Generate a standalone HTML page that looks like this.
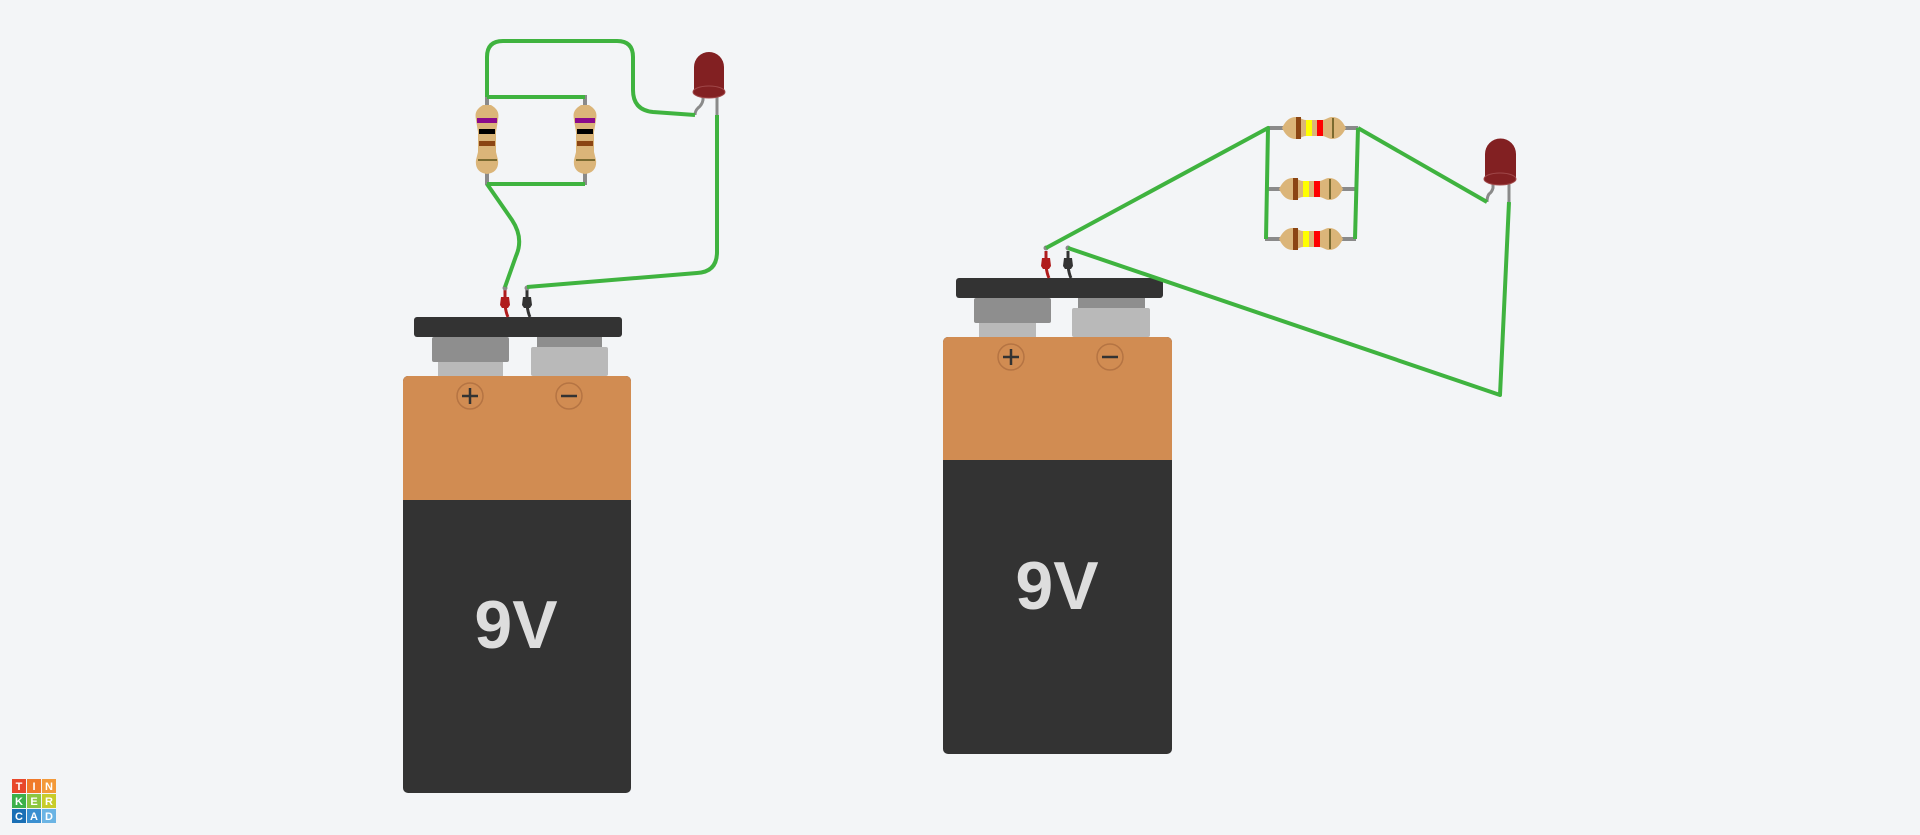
<!DOCTYPE html>
<html><head><meta charset="utf-8"><style>
html,body{margin:0;padding:0;background:#f3f5f7;}
svg{display:block;font-family:"Liberation Sans",sans-serif;}
</style></head><body>
<svg width="1920" height="835" viewBox="0 0 1920 835">
<defs>
<g id="res-v">
  <line x1="0" y1="-45" x2="0" y2="45" stroke="#8a8a8a" stroke-width="4"/>
  <path d="M-4,-35 C-12,-30 -12,-26 -11,-20 L-9,-8 L-9,12 L-11,20 C-12,28 -8,33 0,34 C8,33 12,28 11,20 L9,12 L9,-8 L11,-20 C12,-26 12,-30 4,-35 Z" fill="#dbb579"/>
</g>
<g id="res-h">
  <path d="M-32,0 C-28,-8 -24,-11 -18,-11 C-14,-11 -12,-8 -8,-8 L8,-8 C12,-8 14,-11 18,-11 C24,-11 28,-8 32,0 C28,8 24,11 18,11 C14,11 12,8 8,8 L-8,8 C-12,8 -14,11 -18,11 C-24,11 -28,8 -32,0 Z" fill="#dbb579"/>
  <rect x="-18" y="-11" width="5" height="22" fill="#8b4513"/>
  <rect x="-8" y="-8" width="6" height="16" fill="#ffff00"/>
  <rect x="3" y="-8" width="6" height="16" fill="#ff0000"/>
  <rect x="18" y="-10" width="2" height="20" fill="#7a6a30"/>
</g>
</defs>

<!-- LEFT CIRCUIT -->
<g>
  <rect x="403" y="376" width="228" height="417" rx="5" fill="#333333"/>
  <path d="M403,381 a5,5 0 0 1 5,-5 h218 a5,5 0 0 1 5,5 v119 h-228 z" fill="#d18c52"/>
  <rect x="438" y="360" width="65" height="16" fill="#b9b9b9"/>
  <rect x="432" y="337" width="77" height="25" rx="2" fill="#8e8e8e"/>
  <rect x="537" y="335" width="65" height="14" fill="#8e8e8e"/>
  <rect x="531" y="347" width="77" height="29" rx="2" fill="#b9b9b9"/>
  <rect x="414" y="317" width="208" height="20" rx="3" fill="#333333"/>
  <circle cx="470" cy="396" r="13" fill="none" stroke="#b57443" stroke-width="1.5"/>
  <path d="M462,396 h16 M470,388 v16" stroke="#333" stroke-width="2.5"/>
  <circle cx="569" cy="396" r="13" fill="none" stroke="#b57443" stroke-width="1.5"/>
  <path d="M561,396 h16" stroke="#333" stroke-width="2.5"/>
  <text x="516" y="648" font-size="68" font-weight="bold" fill="#dddddd" text-anchor="middle">9V</text>
</g>
<g>
  <path d="M505,290 v8 M505,305 q1,8 3,12" stroke="#b01c1c" stroke-width="3" fill="none"/>
  <path d="M501,297 h8 l1,8 l-2,3 h-6 l-2,-3 z" fill="#b01c1c"/>
  <path d="M527,290 v8 M527,305 q1,8 3,12" stroke="#333" stroke-width="3" fill="none"/>
  <path d="M523,297 h8 l1,8 l-2,3 h-6 l-2,-3 z" fill="#333"/>
  <circle cx="505" cy="288" r="2.5" fill="#8a8a8a"/><circle cx="527" cy="288" r="2.5" fill="#8a8a8a"/>
</g>
<g>
  <use href="#res-v" x="487" y="140"/>
  <rect x="477" y="118" width="20" height="5" fill="#8b0a8b"/>
  <rect x="479" y="129" width="16" height="5" fill="#000"/>
  <rect x="479" y="141" width="16" height="5" fill="#8b4513"/>
  <rect x="478" y="159" width="19" height="2" fill="#7a6a30"/>
</g>
<g>
  <use href="#res-v" x="585" y="140"/>
  <rect x="575" y="118" width="20" height="5" fill="#8b0a8b"/>
  <rect x="577" y="129" width="16" height="5" fill="#000"/>
  <rect x="577" y="141" width="16" height="5" fill="#8b4513"/>
  <rect x="576" y="159" width="19" height="2" fill="#7a6a30"/>
</g>
<g>
  <path d="M703,96 v4 q-1,5 -5,8 q-3,3 -3,7" stroke="#8a8a8a" stroke-width="3" fill="none"/>
  <path d="M717,95 v20" stroke="#8a8a8a" stroke-width="3"/>
  <path d="M694,67 a15,15 0 0 1 30,0 v25 h-30 z" fill="#822022"/>
  <ellipse cx="709" cy="92" rx="16" ry="6" fill="#822022" stroke="#a0484a" stroke-width="1"/>
</g>
<g fill="none" stroke="#3fb33f" stroke-width="4" stroke-linejoin="round">
  <path d="M487,97 H585"/>
  <path d="M487,184 H585"/>
  <path d="M487,97 V57 q0,-16 16,-16 H617 q16,0 16,16 V90 q0,20 20,22 L695,115"/>
  <path d="M717,115 V252 q0,20 -20,21 L527,287"/>
  <path d="M487,184 L512,220 q12,18 4,36 L505,287"/>
</g>

<!-- RIGHT CIRCUIT -->
<g>
  <rect x="943" y="337" width="229" height="417" rx="5" fill="#333333"/>
  <path d="M943,342 a5,5 0 0 1 5,-5 h219 a5,5 0 0 1 5,5 v118 h-229 z" fill="#d18c52"/>
  <rect x="979" y="320" width="57" height="17" fill="#b9b9b9"/>
  <rect x="974" y="298" width="77" height="25" rx="2" fill="#8e8e8e"/>
  <rect x="1078" y="296" width="67" height="14" fill="#8e8e8e"/>
  <rect x="1072" y="308" width="78" height="29" rx="2" fill="#b9b9b9"/>
  <rect x="956" y="278" width="207" height="20" rx="3" fill="#333333"/>
  <circle cx="1011" cy="357" r="13" fill="none" stroke="#b57443" stroke-width="1.5"/>
  <path d="M1003,357 h16 M1011,349 v16" stroke="#333" stroke-width="2.5"/>
  <circle cx="1110" cy="357" r="13" fill="none" stroke="#b57443" stroke-width="1.5"/>
  <path d="M1102,357 h16" stroke="#333" stroke-width="2.5"/>
  <text x="1057" y="609" font-size="68" font-weight="bold" fill="#dddddd" text-anchor="middle">9V</text>
</g>
<g>
  <path d="M1046,251 v8 M1046,266 q1,8 3,12" stroke="#b01c1c" stroke-width="3" fill="none"/>
  <path d="M1042,258 h8 l1,8 l-2,3 h-6 l-2,-3 z" fill="#b01c1c"/>
  <path d="M1068,251 v8 M1068,266 q1,8 3,12" stroke="#333" stroke-width="3" fill="none"/>
  <path d="M1064,258 h8 l1,8 l-2,3 h-6 l-2,-3 z" fill="#333"/>
  <circle cx="1046" cy="248" r="2.5" fill="#8a8a8a"/><circle cx="1068" cy="248" r="2.5" fill="#8a8a8a"/>
</g>
<g stroke="#8a8a8a" stroke-width="4">
  <line x1="1268" y1="128" x2="1358" y2="128"/>
  <line x1="1265" y1="189" x2="1356" y2="189"/>
  <line x1="1265" y1="239" x2="1356" y2="239"/>
</g>
<g><use href="#res-h" x="1314" y="128"/></g>
<g><use href="#res-h" x="1311" y="189"/></g>
<g><use href="#res-h" x="1311" y="239"/></g>
<g>
  <path d="M1493,183 v5 q-1,4 -4,6 q-2,3 -2,8" stroke="#8a8a8a" stroke-width="3" fill="none"/>
  <path d="M1509,183 v19" stroke="#8a8a8a" stroke-width="3"/>
  <path d="M1485,154 a15.5,15.5 0 0 1 31,0 v25 h-31 z" fill="#822022"/>
  <ellipse cx="1500" cy="179" rx="16" ry="6" fill="#822022" stroke="#a0484a" stroke-width="1"/>
</g>
<g fill="none" stroke="#3fb33f" stroke-width="4" stroke-linejoin="round">
  <path d="M1046,248 L1268,128 L1266,239"/>
  <path d="M1358,128 L1355,239"/>
  <path d="M1358,128 L1487,202"/>
  <path d="M1509,202 L1500,395 L1068,248"/>
</g>

<!-- LOGO -->
<g font-size="11" font-weight="bold" fill="#fff" text-anchor="middle">
  <rect x="12" y="779" width="14" height="14" fill="#e8472b"/><rect x="27" y="779" width="14" height="14" fill="#f07a2a"/><rect x="42" y="779" width="14" height="14" fill="#f39a3a"/>
  <rect x="12" y="794" width="14" height="14" fill="#3cb04a"/><rect x="27" y="794" width="14" height="14" fill="#8cc640"/><rect x="42" y="794" width="14" height="14" fill="#c8cc2a"/>
  <rect x="12" y="809" width="14" height="14" fill="#1a6fb5"/><rect x="27" y="809" width="14" height="14" fill="#3a8fd0"/><rect x="42" y="809" width="14" height="14" fill="#6bb4e4"/>
  <text x="19" y="790">T</text><text x="34" y="790">I</text><text x="49" y="790">N</text>
  <text x="19" y="805">K</text><text x="34" y="805">E</text><text x="49" y="805">R</text>
  <text x="19" y="820">C</text><text x="34" y="820">A</text><text x="49" y="820">D</text>
</g>
</svg>
</body></html>
